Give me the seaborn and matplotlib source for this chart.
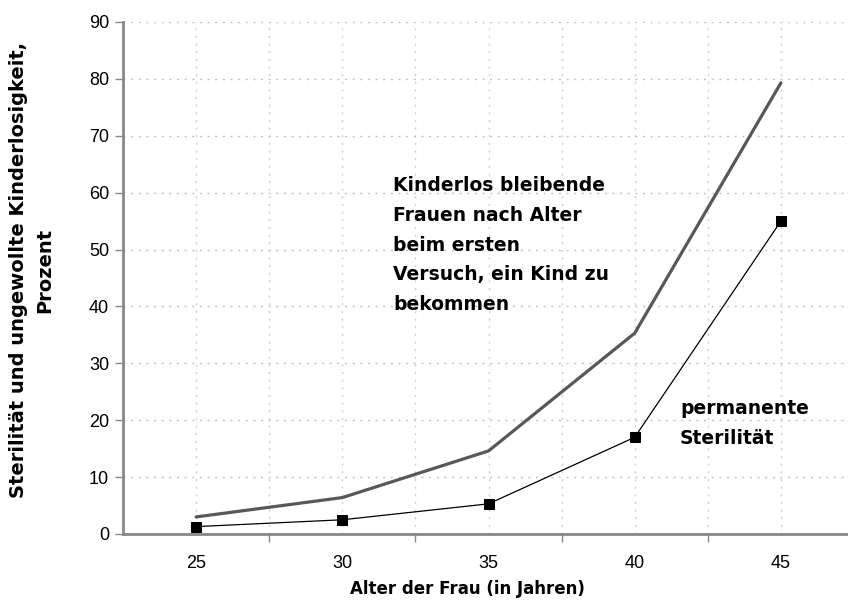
import matplotlib
matplotlib.use("Agg")
import matplotlib.pyplot as plt
import seaborn as sns
import pandas as pd
from matplotlib.ticker import MultipleLocator, FixedLocator

ages = [25, 30, 35, 40, 45]
kinderlos = [3.0, 6.4, 14.6, 35.3, 79.3]
sterilitaet = [1.3, 2.5, 5.3, 17.0, 55.0]

sns.set_theme(style="white")
plt.rcParams['font.family'] = ['Liberation Sans', 'DejaVu Sans']
plt.rcParams['text.color'] = 'black'
BOLD = ['DejaVu Sans']

df = pd.DataFrame({"Alter": ages, "Kinderlos": kinderlos, "Sterilität": sterilitaet})

fig = plt.figure(figsize=(8.48, 6.0), dpi=100)
ax = fig.add_axes([123/848, 66/600, 731/848, 512/600])

sns.lineplot(data=df, x="Alter", y="Kinderlos", ax=ax, color="#585858", linewidth=2.3)
sns.lineplot(data=df, x="Alter", y="Sterilität", ax=ax, color="black", linewidth=0.9,
             marker="s", markersize=7.5, markeredgecolor="black", markerfacecolor="black")

ax.set_xlim(22.5, 47.5)
ax.set_ylim(0, 90)
ax.yaxis.set_major_locator(MultipleLocator(10))
ax.xaxis.set_major_locator(FixedLocator(ages))
ax.xaxis.set_minor_locator(FixedLocator([27.5, 32.5, 37.5, 42.5]))

ax.grid(True, which="major", axis="y", color="#c4c4c4", linestyle=(0, (1.5, 4)), linewidth=1)
ax.grid(True, which="both", axis="x", color="#cfcfcf", linestyle=(0, (1.5, 4)), linewidth=1)

for s in ["top", "right"]:
    ax.spines[s].set_visible(False)
for s in ["left", "bottom"]:
    ax.spines[s].set_color("#888888")
    ax.spines[s].set_linewidth(2)

ax.tick_params(axis="y", which="major", direction="out", length=6, width=1, color="#888888",
               left=True, labelsize=13, pad=4, labelcolor="black")
ax.tick_params(axis="x", which="major", length=0, labelsize=13, pad=15, labelcolor="black")
ax.tick_params(axis="x", which="minor", direction="out", length=6, width=1, color="#888888",
               bottom=True)

ax.set_xlabel("")
ax.set_ylabel("")
fig.text(467/848, 1 - 589/600, "Alter der Frau (in Jahren)", ha="center", va="center",
         fontsize=12, fontweight="bold", family=BOLD, color="black")
fig.text(32/848, 1 - 270/600, "Sterilität und ungewollte Kinderlosigkeit,\nProzent",
         ha="center", va="center", rotation=90, fontsize=14, fontweight="bold",
         linespacing=1.5, family=BOLD, color="black")

ax.text(393/848, 1 - 176/600,
        "Kinderlos bleibende\nFrauen nach Alter\nbeim ersten\nVersuch, ein Kind zu\nbekommen",
        transform=fig.transFigure, ha="left", va="top", fontsize=13.5, fontweight="bold",
        linespacing=1.72, family=BOLD, color="black")
ax.text(680/848, 1 - 399/600, "permanente\nSterilität",
        transform=fig.transFigure, ha="left", va="top", fontsize=13.5, fontweight="bold",
        linespacing=1.72, family=BOLD, color="black")

fig.savefig("out.png", dpi=100)
